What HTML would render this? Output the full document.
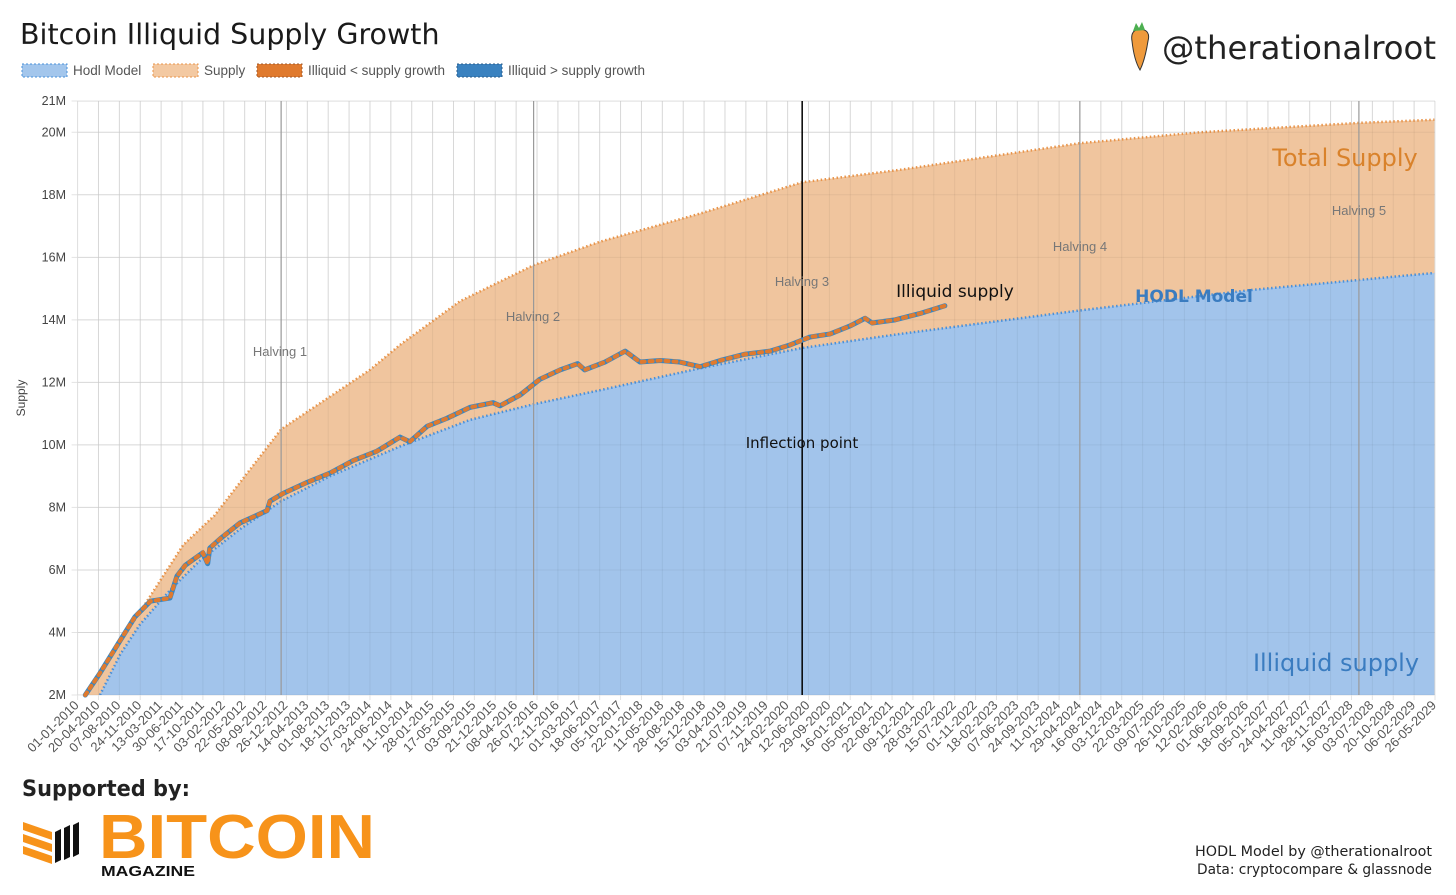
<!DOCTYPE html>
<html><head><meta charset="utf-8">
<style>
body{margin:0;width:1456px;height:895px;background:#fff;overflow:hidden;font-family:"Liberation Sans",sans-serif;}
svg{position:absolute;left:0;top:0}
</style></head>
<body>
<svg id="chart" width="1456" height="895">
  <text x="20" y="44" font-size="28.5" fill="#1a1a1a" font-family="DejaVu Sans, sans-serif">Bitcoin Illiquid Supply Growth</text>
  <g>
    <g><rect x="22" y="64" width="45" height="13" fill="#a3c6ec" stroke="#4a90d9" stroke-dasharray="2 2"/><text x="73" y="75" font-size="13.5" fill="#555">Hodl Model</text></g>
    <g><rect x="153" y="64" width="45" height="13" fill="#f3c9a2" stroke="#e8944a" stroke-dasharray="2 2"/><text x="204" y="75" font-size="13.5" fill="#555">Supply</text></g>
    <g><rect x="257" y="64" width="45" height="13" fill="#e07a2e" stroke="#a0582a" stroke-dasharray="2 2"/><text x="308" y="75" font-size="13.5" fill="#555">Illiquid &lt; supply growth</text></g>
    <g><rect x="457" y="64" width="45" height="13" fill="#3a82c0" stroke="#2a5e8c" stroke-dasharray="2 2"/><text x="508" y="75" font-size="13.5" fill="#555">Illiquid &gt; supply growth</text></g>
  </g>
  <g>
    <g>
      <path d="M1132 41 Q1130 30 1140 29 Q1151 30 1148 41 Q1145 60 1140 70 Q1134 60 1132 41Z" fill="#ef9a3c" stroke="#333" stroke-width="1"/>
      <path d="M1133 31 L1136 23 L1139 28 L1142 22 L1145 30 Z" fill="#4caf50"/>
    </g>
    <text x="1436" y="59" font-size="32" text-anchor="end" fill="#222" font-family="DejaVu Sans, sans-serif" textLength="274" lengthAdjust="spacingAndGlyphs">@therationalroot</text>
  </g>
  <g id="plot"></g>
  <text x="22" y="796" font-size="22" font-weight="bold" fill="#222" font-family="DejaVu Sans, sans-serif" textLength="168" lengthAdjust="spacingAndGlyphs">Supported by:</text>
  <g>
    <g fill="#f7931a"><polygon points="23,822 52,832 52,840 23,830"/><polygon points="23,834 52,844 52,852 23,842"/><polygon points="23,846 52,856 52,864 23,854"/></g>
    <g fill="#111"><polygon points="55,832 61,829 61,860 55,863"/><polygon points="64,828 70,825 70,857 64,860"/><polygon points="73,825 79,822 79,854 73,857"/></g>
    <text x="99" y="858" font-size="62" font-weight="bold" fill="#f7931a" textLength="276" lengthAdjust="spacingAndGlyphs">BITCOIN</text>
    <text x="101" y="876" font-size="15" font-weight="bold" fill="#111" textLength="94" lengthAdjust="spacingAndGlyphs">MAGAZINE</text>
  </g>
  <text x="1432" y="856" font-size="14" text-anchor="end" fill="#222" font-family="DejaVu Sans, sans-serif" textLength="237" lengthAdjust="spacingAndGlyphs">HODL Model by @therationalroot</text>
  <text x="1432" y="874" font-size="14" text-anchor="end" fill="#222" font-family="DejaVu Sans, sans-serif" textLength="235" lengthAdjust="spacingAndGlyphs">Data: cryptocompare &amp; glassnode</text>
</svg>
<script>
const yTicks=[2,4,6,8,10,12,14,16,18,20,21];
const supplyYears=[2010.0,2010.11,2010.89,2011.51,2011.96,2012.91,2014.18,2014.61,2015.47,2016.52,2017.47,2018.90,2020.36,2021.76,2024.33,2026.05,2028.32,2029.40];
const supplyValues=[1.75,2.0,4.65,6.8,7.75,10.5,12.4,13.2,14.6,15.75,16.5,17.4,18.4,18.8,19.65,20.0,20.3,20.4];
const hodlYears=[2010.32,2010.61,2010.89,2011.32,2011.75,2012.32,2012.91,2013.61,2014.61,2015.61,2016.52,2017.47,2018.90,2020.36,2021.76,2024.33,2026.76,2029.40];
const hodlValues=[2.0,3.3,4.25,5.35,6.3,7.3,8.2,9.0,9.95,10.8,11.3,11.75,12.45,13.1,13.55,14.3,14.95,15.5];
const illiquidYears=[2010.11,2010.32,2010.61,2010.82,2011.04,2011.32,2011.42,2011.54,2011.79,2011.86,2011.89,2012.04,2012.32,2012.71,2012.75,2012.94,2013.28,2013.61,2013.94,2014.28,2014.61,2014.75,2015.00,2015.28,2015.61,2015.94,2016.04,2016.33,2016.61,2016.90,2017.15,2017.25,2017.54,2017.83,2018.04,2018.33,2018.61,2018.90,2019.19,2019.54,2019.90,2020.19,2020.47,2020.76,2021.04,2021.26,2021.36,2021.69,2022.04,2022.40];
const illiquidValues=[2.0,2.7,3.75,4.5,5.0,5.1,5.8,6.15,6.55,6.2,6.7,7.0,7.5,7.9,8.2,8.45,8.8,9.1,9.5,9.8,10.25,10.1,10.6,10.85,11.2,11.35,11.25,11.6,12.1,12.4,12.6,12.4,12.65,13.0,12.65,12.7,12.65,12.5,12.7,12.9,13.0,13.2,13.45,13.55,13.8,14.05,13.9,14.0,14.2,14.45];
const halvingYears=[2012.91,2016.52,2024.33,2028.32];
const halving3Year=2020.36;
const xLabels=["01-01-2010","20-04-2010","07-08-2010","24-11-2010","13-03-2011","30-06-2011","17-10-2011","03-02-2012","22-05-2012","08-09-2012","26-12-2012","14-04-2013","01-08-2013","18-11-2013","07-03-2014","24-06-2014","11-10-2014","28-01-2015","17-05-2015","03-09-2015","21-12-2015","08-04-2016","26-07-2016","12-11-2016","01-03-2017","18-06-2017","05-10-2017","22-01-2018","11-05-2018","28-08-2018","15-12-2018","03-04-2019","21-07-2019","07-11-2019","24-02-2020","12-06-2020","29-09-2020","16-01-2021","05-05-2021","22-08-2021","09-12-2021","28-03-2022","15-07-2022","01-11-2022","18-02-2023","07-06-2023","24-09-2023","11-01-2024","29-04-2024","16-08-2024","03-12-2024","22-03-2025","09-07-2025","26-10-2025","12-02-2026","01-06-2026","18-09-2026","05-01-2027","24-04-2027","11-08-2027","28-11-2027","16-03-2028","03-07-2028","20-10-2028","06-02-2029","26-05-2029"];

const L=77.6,R=1435,T=101,B=695;
const x=yr=>L+(yr-2010)*69.94;
const y=v=>B-(v-2)*(B-T)/19;
const NS="http://www.w3.org/2000/svg";
const plot=document.getElementById('plot');
function mk(tag,attrs,parent){const e=document.createElementNS(NS,tag);for(const k in attrs)e.setAttribute(k,attrs[k]);(parent||plot).appendChild(e);return e;}

const clip=mk('clipPath',{id:'pc'});mk('rect',{x:L,y:T,width:R-L,height:B-T},clip);
const grid=mk('g',{});


const tickStep=(R-L)/(xLabels.length-1);
xLabels.forEach((lb,i)=>{
  const xx=L+i*tickStep;
  mk('line',{x1:xx,y1:T,x2:xx,y2:B+5,stroke:'#e3e3e3','stroke-width':1},grid);
  const t=mk('text',{x:xx+2,y:B+11,'font-size':13,fill:'#555','text-anchor':'end',transform:`rotate(-45 ${xx+2} ${B+11})`});
  t.textContent=lb;
  
  
});
yTicks.forEach(v=>{
  mk('line',{x1:L-6,y1:y(v),x2:R,y2:y(v),stroke:'#e3e3e3','stroke-width':1},grid);
  const t=mk('text',{x:66,y:y(v)+4,'font-size':12.5,fill:'#444','text-anchor':'end'});
  t.textContent=v+'M';
  
  
});
const yt=mk('text',{x:25,y:398,'font-size':12,fill:'#444','text-anchor':'middle',transform:'rotate(-90 25 398)'});
yt.textContent='Supply';



const g=mk('g',{'clip-path':'url(#pc)'});
function area(xs,vs,fill,stroke,name){
  let d=`M${x(xs[0])},${B}`;xs.forEach((a,i)=>d+=` L${x(a)},${y(vs[i])}`);d+=` L${x(xs[xs.length-1])},${B}Z`;
  const p=mk('path',{d,fill,opacity:1},g);
  
  
  let l='';xs.forEach((a,i)=>l+=(i?' L':'M')+x(a)+','+y(vs[i]));
  const s=mk('path',{d:l,fill:'none',stroke,'stroke-width':2.5,'stroke-dasharray':'1.5 2.5'},g);
  
  
}
area(supplyYears,supplyValues,'#f0c59e','#e8944a','supply');
area(hodlYears,hodlValues,'#a2c4eb','#4a90d9','hodl-model');
xLabels.forEach((lb,i)=>{const xx=L+i*tickStep;mk('line',{x1:xx,y1:T,x2:xx,y2:B,stroke:'rgba(0,0,0,0.05)','stroke-width':1},g);});
yTicks.forEach(v=>mk('line',{x1:L,y1:y(v),x2:R,y2:y(v),stroke:'rgba(0,0,0,0.05)','stroke-width':1},g));

halvingYears.forEach((h,i)=>{
  const l=mk('line',{x1:x(h),y1:T,x2:x(h),y2:B,stroke:'#999','stroke-width':1.2});
  
  
});
const hv=mk('line',{x1:x(halving3Year),y1:T,x2:x(halving3Year),y2:B,stroke:'#000','stroke-width':1.5});



let il='';illiquidYears.forEach((a,i)=>il+=(i?' L':'M')+x(a)+','+y(illiquidValues[i]));
const ib=mk('path',{d:il,fill:'none',stroke:'#3a86c0','stroke-width':5,'stroke-linejoin':'round','stroke-linecap':'round'});


const io=mk('path',{d:il,fill:'none',stroke:'#e07a2e','stroke-width':4,'stroke-dasharray':'3 5','stroke-linecap':'round'});



const labels=[[280,356,'Halving 1',13,'#777','normal'],[533,321,'Halving 2',13,'#777','normal'],[802,286,'Halving 3',13,'#777','normal'],[1080,251,'Halving 4',13,'#777','normal'],[1359,215,'Halving 5',13,'#777','normal'],
[802,448,'Inflection point',15,'#111','normal'],[955,297,'Illiquid supply',17,'#111','normal'],[1194,302,'HODL Model',17,'#3a7cc0','bold'],[1345,166,'Total Supply',24,'#d9822b','normal'],[1336,671,'Illiquid supply',24,'#3a7cc0','normal']];
labels.forEach(a=>{
  const t=mk('text',{x:a[0],y:a[1],'font-size':a[3],fill:a[4],'font-weight':a[5],'text-anchor':'middle','font-family':a[3]>13?'DejaVu Sans, sans-serif':'Liberation Sans, sans-serif'});
  t.textContent=a[2];
  
  
});
</script>
</body></html>
